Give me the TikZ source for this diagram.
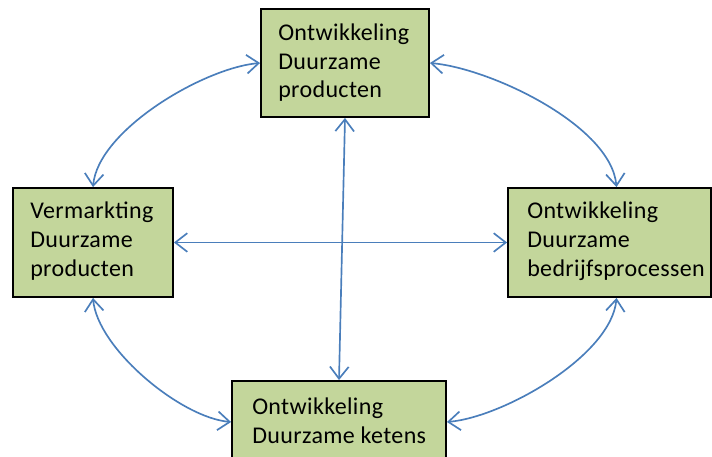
\documentclass[tikz,border=0pt]{standalone}
\usepackage{fontspec}
\setmainfont{Carlito}[LetterSpace=1.5]
\usetikzlibrary{arrows.meta}
\definecolor{boxfill}{HTML}{C3D69B}
\definecolor{linkblue}{HTML}{4A7EBB}
\begin{document}
\begin{tikzpicture}[x=0.75pt,y=-0.75pt,
  box/.style={draw=black, line width=1.4pt, fill=boxfill, inner sep=0pt},
  txt/.style={inner sep=0pt, align=left, anchor=base west,
    font=\fontsize{18pt}{21.5pt}\selectfont},
  barb/.tip={Straight Barb[length=9pt,width=14pt]},
  link/.style={draw=linkblue, line width=1.25pt, arrows={barb-barb}}]
\useasboundingbox (0,0) rectangle (712,456);

% the four activity boxes
\node[box, minimum width=126pt, minimum height=81pt] (top) at (345,63) {};
\node[box, minimum width=120pt, minimum height=81.75pt] (left) at (93,242.5) {};
\node[box, minimum width=152.25pt, minimum height=81.75pt] (right) at (609.5,242.5) {};
\node[box, minimum width=160.5pt, minimum height=61.5pt] (bottom) at (339,422) {};

% box captions (anchored at the baseline of the last line)
\node[txt] (top-t) at (278,98) {Ontwikkeling\\Duurzame\\producten};
\node[txt] (left-t) at (30,276) {Vermarkting\\Duurzame\\producten};
\node[txt] (right-t) at (527,276) {Ontwikkeling\\Duurzame\\bedrijfsprocessen};
\node[txt] (bottom-t) at (252,443) {Ontwikkeling\\Duurzame ketens};

% curved links around the ring
\draw[link] (left.north) to[out=85,in=185,looseness=0.7] (top.west);
\draw[link] (top.east) to[out=-5,in=95,looseness=0.7] ([xshift=5.25pt]right.north);
\draw[link] (left.south) to[out=-85,in=175,looseness=0.7] (bottom.west);
\draw[link] (bottom.east) to[out=5,in=-95,looseness=0.7] ([xshift=5.25pt]right.south);

% straight links through the middle
\draw[link] (left.east) -- (right.west);
\draw[link] (top.south) -- (bottom.north);
\end{tikzpicture}
\end{document}
